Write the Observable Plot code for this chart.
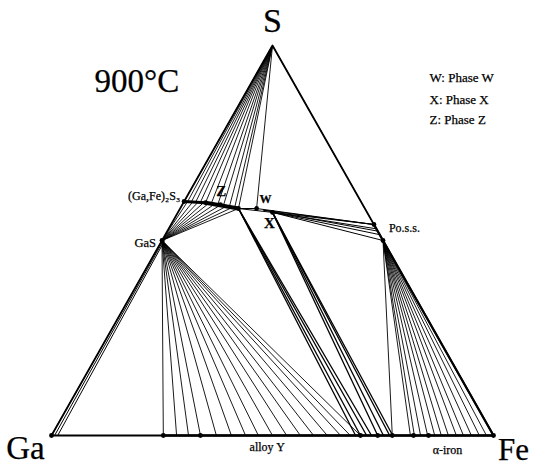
<!DOCTYPE html>
<html>
<head>
<meta charset="utf-8">
<script src="https://cdn.jsdelivr.net/npm/d3@7"></script>
<script src="https://cdn.jsdelivr.net/npm/@observablehq/plot@0.6"></script>
<style>
  html, body { margin: 0; padding: 0; background: #fff; }
</style>
</head>
<body>
<div id="chart"></div>
<script>
// Compositions as [Fe fraction, S fraction] (Ga = 1 - Fe - S)
const vS = [0, 1], vGa = [0, 0], vFe = [1, 0];
const GaS = [0, 0.5];
const Ga2S3 = [0, 0.6];
const Zend = [0.132, 0.582];
const W = [0.173, 0.582];
const X = [0.214, 0.572];
const PoU = [0.459, 0.541];
const PoL = [0.5, 0.5];

// (Ga,Fe)2S3 solid-solution points reached by tie lines from S
const sFanEnds = [[0.000,0.600],[0.008,0.600],[0.017,0.599],[0.027,0.597],[0.038,0.597],[0.050,0.596],[0.064,0.595],[0.080,0.592],[0.094,0.590],[0.109,0.587],[0.122,0.585],[0.132,0.582]];
// (Ga,Fe)2S3 points reached by tie lines from GaS
const gasTopEnds = [[0.008,0.600],[0.020,0.599],[0.032,0.597],[0.045,0.596],[0.058,0.595],[0.072,0.593],[0.087,0.591],[0.102,0.588],[0.117,0.585],[0.132,0.582]];
// alloy compositions (Fe fraction on Ga-Fe side) tied to GaS
const gasBaseFe = [0.253,0.283,0.310,0.337,0.373,0.407,0.439,0.468,0.500,0.532,0.563,0.593,0.624,0.654,0.676,0.699];
// alloy compositions tied to (Ga,Fe)2S3 end and to X
const bundleAFe = [0.688,0.699,0.713,0.724];
const bundleBFe = [0.738,0.751,0.765,0.772];
// alloy / alpha-iron compositions tied to Po.s.s.
const poBaseFe = [0.771,0.812,0.821,0.835,0.851,0.867,0.882,0.898,0.916,0.932,0.950,0.968,0.984];
// Ga-rich liquid to GaS tie lines
const gaLiquid = [[[0,0],[0,0.5]],[[0.007,0],[0.003,0.5]],[[0.014,0],[0.006,0.5]]];
// tie lines between W / X region and Po.s.s.
const wxPo = [[Zend,W],[W,PoU],[Zend,X],[[0.19,0.578],PoU],[X,PoU],[X,[0.47,0.53]],[X,[0.485,0.515]],[X,PoL],[[0.19,0.578],[0.476,0.524]]];
// marked compositions
const dotsTop = [Ga2S3,[0.05,0.597],[0.086,0.592],Zend,W,X,GaS,PoU,PoL];
const dotsBaseFe = [0,0.253,0.337,0.699,0.738,0.771,0.819,0.853,1];

const labels = [
  {t:"S", p:vS, dx:0, dy:-24, size:34, anchor:"middle"},
  {t:"Ga", p:vGa, dx:-26, dy:13, size:33, anchor:"middle"},
  {t:"Fe", p:vFe, dx:20, dy:15, size:31, anchor:"middle"},
  {t:"(Ga,Fe)\u2082S\u2083", p:Ga2S3, dx:-4, dy:-5, size:12, anchor:"end"},
  {t:"GaS", p:GaS, dx:-6, dy:2, size:12.5, anchor:"end"},
  {t:"Z", p:[0.086,0.592], dx:1, dy:-13, size:15, anchor:"middle", weight:"bold"},
  {t:"W", p:W, dx:9, dy:-9, size:12, anchor:"middle", weight:"bold"},
  {t:"X", p:X, dx:-3, dy:11, size:15, anchor:"middle", weight:"bold"},
  {t:"Po.s.s.", p:PoU, dx:15, dy:4, size:12, anchor:"start"},
  {t:"alloy Y", p:[0.488,0], dx:0, dy:12, size:12, anchor:"middle"},
  {t:"\u03b1-iron", p:[0.896,0], dx:0, dy:15, size:12, anchor:"middle"}
];
const title = "900°C";
const legendLines = ["W: Phase W","X: Phase X","Z: Phase Z"];
const legendRowsY = [77, 99, 119];

const tx = d => d[0] + d[1] / 2;
const ty = d => d[1];

const toLinks = pairs => pairs.map(([a,b]) => ({x1:tx(a), y1:ty(a), x2:tx(b), y2:ty(b)}));
const fromTo = (a, list) => list.map(b => [a, b]);

const edge = [vGa, vFe, vS, vGa].map(p => ({x:tx(p), y:ty(p)}));

const linkOpts = {x1:"x1", y1:"y1", x2:"x2", y2:"y2", stroke:"#000"};
const inkText = {fill:"#000", stroke:"#000", strokeWidth:0.25};

const labelMarks = labels.map(l => Plot.text([l], {
  x: d => tx(d.p), y: d => ty(d.p), text: d => d.t,
  dx: l.dx, dy: l.dy, fontSize: l.size, textAnchor: l.anchor,
  fontWeight: l.weight || "normal", lineAnchor: "middle", ...inkText
}));
const legendMarks = legendLines.map((s, i) => Plot.text([s], {
  frameAnchor: "top-left", dx: 429, dy: legendRowsY[i], text: d => d,
  fontSize: 13, textAnchor: "start", lineAnchor: "middle", ...inkText
}));

const chart = Plot.plot({
  width: 534,
  height: 466,
  margin: 0,
  x: {domain:[0,1], range:[51,493], axis:null},
  y: {domain:[0,1], range:[435,45], axis:null},
  style: {fontFamily:"'Liberation Serif', 'Times New Roman', serif", background:"#fff", color:"#000"},
  marks: [
    Plot.link(toLinks(fromTo(vS, sFanEnds)), {...linkOpts, strokeWidth:0.9}),
    Plot.link(toLinks([[vS, W],[vS, PoL]]), {...linkOpts, strokeWidth:0.9}),
    Plot.link(toLinks(fromTo(GaS, gasTopEnds)), {...linkOpts, strokeWidth:0.9}),
    Plot.link(toLinks(gaLiquid), {...linkOpts, strokeWidth:1}),
    Plot.link(toLinks(fromTo(GaS, gasBaseFe.map(f => [f,0]))), {...linkOpts, strokeWidth:0.9}),
    Plot.link(toLinks(fromTo(Zend, bundleAFe.map(f => [f,0]))), {...linkOpts, strokeWidth:1.3}),
    Plot.link(toLinks(fromTo(X, bundleBFe.map(f => [f,0]))), {...linkOpts, strokeWidth:1.3}),
    Plot.link(toLinks(fromTo(PoL, poBaseFe.map(f => [f,0]))), {...linkOpts, strokeWidth:0.9}),
    Plot.link(toLinks(wxPo), {...linkOpts, strokeWidth:1}),
    Plot.line(edge, {x:"x", y:"y", stroke:"#000", strokeWidth:1.8}),
    Plot.link(toLinks([[[0.253,0],vFe]]), {...linkOpts, strokeWidth:2.4}),
    Plot.link(toLinks([[PoU,vFe]]), {...linkOpts, strokeWidth:2.2}),
    Plot.link(toLinks([[Ga2S3,[0.05,0.597]]]), {...linkOpts, strokeWidth:3}),
    Plot.link(toLinks([[[0.05,0.597],Zend]]), {...linkOpts, strokeWidth:4}),
    Plot.dot(dotsTop, {x:tx, y:ty, r:2.4, fill:"#000"}),
    Plot.dot(dotsBaseFe, {x:f => f, y:() => 0, r:2.4, fill:"#000"}),
    ...labelMarks,
    Plot.text([title], {frameAnchor:"top-left", dx:94, dy:81, text:d => d, fontSize:33, textAnchor:"start", lineAnchor:"middle", ...inkText}),
    ...legendMarks
  ]
});
document.getElementById("chart").appendChild(chart);
</script>
</body>
</html>
